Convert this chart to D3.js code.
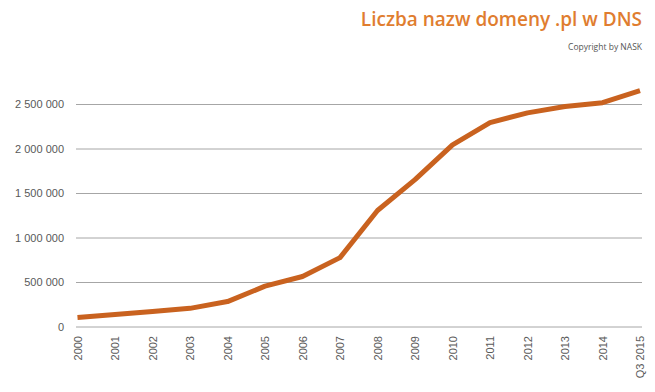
<!DOCTYPE html>
<html>
<head>
<meta charset="utf-8">
<script src="https://cdn.jsdelivr.net/npm/d3@7"></script>
<style>
  body { margin: 0; background: #fff; }
  svg { display: block; font-family: "Open Sans", sans-serif; }
</style>
</head>
<body>
<svg id="chart" width="655" height="392"></svg>
<script>
// data
var years = ["2000", "2001", "2002", "2003", "2004", "2005", "2006", "2007",
             "2008", "2009", "2010", "2011", "2012", "2013", "2014", "Q3 2015"];
var domains = [100000, 134000, 168000, 204000, 280000, 453000, 562000, 774000,
               1303000, 1650000, 2041000, 2291000, 2400000, 2472000, 2515000, 2649000];
var yTicks = [0, 500000, 1000000, 1500000, 2000000, 2500000];

var svg = d3.select("#chart");
var margin = {top: 104, right: 13, bottom: 65, left: 76};
var width = 655 - margin.left - margin.right;
var height = 392 - margin.top - margin.bottom;

var g = svg.append("g").attr("transform", "translate(" + margin.left + "," + margin.top + ")");

var x = d3.scalePoint().domain(years).range([1.5, width - 2]);
var y = d3.scaleLinear().domain([0, 2500000]).range([height - 0.5, 0]);

var fmt = function(d) { return d3.format(",")(d).replace(/,/g, " "); };

// grid
g.append("g")
    .call(d3.axisLeft(y).tickValues(yTicks).tickSize(-width).tickFormat(fmt).tickPadding(12))
    .call(function(a) {
      a.select(".domain").remove();
      a.selectAll(".tick line").attr("stroke", "#a6a6a6").attr("stroke-width", 1);
      a.selectAll(".tick text").attr("fill", "#595959").style("font-size", "11px");
    });

// x axis
g.append("g")
    .attr("transform", "translate(0," + height + ")")
    .call(d3.axisBottom(x).tickSize(0).tickPadding(0))
    .call(function(a) {
      a.select(".domain").remove();
      a.selectAll(".tick text")
        .attr("fill", "#595959")
        .style("font-size", "11px")
        .attr("transform", "rotate(-90)")
        .attr("text-anchor", "end")
        .attr("x", -9)
        .attr("y", 0)
        .attr("dy", "0.35em");
    });

var line = d3.line()
    .x(function(d, i) { return x(years[i]); })
    .y(function(d) { return y(d); });

g.append("path")
    .datum(domains)
    .attr("fill", "none")
    .attr("stroke", "#c9621f")
    .attr("stroke-width", 5)
    .attr("stroke-linejoin", "round")
    .attr("d", line);

svg.append("text")
    .attr("x", 642)
    .attr("y", 26)
    .attr("text-anchor", "end")
    .attr("fill", "#e07d2f")
    .style("font-size", "19px")
    .style("font-weight", 600)
    .text("Liczba nazw domeny .pl w DNS");

svg.append("text")
    .attr("x", 642)
    .attr("y", 50)
    .attr("text-anchor", "end")
    .attr("fill", "#555")
    .style("font-size", "8.5px")
    .text("Copyright by NASK");
</script>
</body>
</html>
